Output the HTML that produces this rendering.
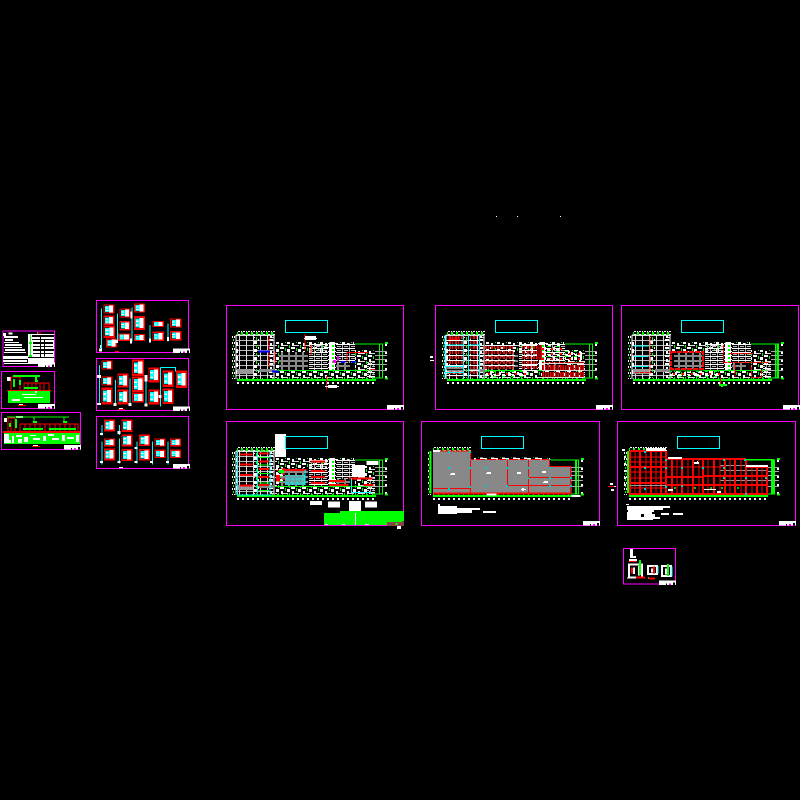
<!DOCTYPE html>
<html><head><meta charset="utf-8"><title>CAD sheet overview</title>
<style>html,body{margin:0;padding:0;background:#000}svg{display:block}</style></head>
<body>
<svg xmlns="http://www.w3.org/2000/svg" width="800" height="800" viewBox="0 0 800 800" shape-rendering="crispEdges">
<defs>
<pattern id="topd" width="15" height="12" patternUnits="userSpaceOnUse"><rect x="3" y="0" width="6" height="9" fill="#0f0"/><rect x="9" y="6" width="6" height="6" fill="#fff"/><rect x="3" y="9" width="3" height="3" fill="#fff"/></pattern>
<pattern id="dotl" width="9" height="18" patternUnits="userSpaceOnUse"><rect x="0" y="0" width="6" height="6" fill="#fff"/><rect x="6" y="9" width="3" height="6" fill="#0f0"/></pattern>
<pattern id="busy" width="33" height="24" patternUnits="userSpaceOnUse"><rect x="0" y="0" width="12" height="3" fill="#fff"/><rect x="15" y="0" width="3" height="9" fill="#0f0"/><rect x="21" y="3" width="9" height="9" fill="#fff"/><rect x="3" y="9" width="6" height="9" fill="#fff"/><rect x="9" y="15" width="15" height="3" fill="#ddd"/><rect x="27" y="15" width="3" height="9" fill="#0f0"/><rect x="0" y="21" width="12" height="3" fill="#fff"/></pattern>
<pattern id="rows" width="21" height="12" patternUnits="userSpaceOnUse"><rect x="0" y="0" width="21" height="3" fill="#fff"/><rect x="0" y="6" width="12" height="3" fill="#bbb"/><rect x="15" y="3" width="3" height="9" fill="#aaa"/></pattern>
<pattern id="grey" width="21" height="15" patternUnits="userSpaceOnUse"><rect width="21" height="6" fill="#888"/><rect x="0" width="6" height="15" fill="#888"/></pattern>
<pattern id="tw" width="21" height="15" patternUnits="userSpaceOnUse"><rect width="21" height="3" fill="#bbb"/><rect width="3" height="15" fill="#ddd"/></pattern>
<pattern id="rc" width="18" height="15" patternUnits="userSpaceOnUse"><rect width="18" height="3" fill="#fff"/><rect x="3" y="3" width="12" height="9" fill="#f00"/><rect x="9" y="3" width="3" height="9" fill="#000"/></pattern>
<pattern id="rc2" width="15" height="21" patternUnits="userSpaceOnUse"><rect y="0" width="15" height="3" fill="#ddd"/><rect y="6" x="0" width="12" height="15" fill="#f00"/><rect y="6" x="5" width="3" height="15" fill="#000"/></pattern>
<pattern id="gd" width="12" height="15" patternUnits="userSpaceOnUse"><rect width="12" height="3" fill="#999"/></pattern>
<pattern id="mix" width="27" height="15" patternUnits="userSpaceOnUse"><rect x="0" y="3" width="9" height="3" fill="#0f0"/><rect x="3" y="0" width="9" height="3" fill="#fff"/><rect x="18" y="6" width="6" height="9" fill="#fff"/><rect x="12" y="9" width="6" height="6" fill="#f00"/><rect x="0" y="12" width="9" height="3" fill="#fff"/></pattern>
<pattern id="wg" width="21" height="12" patternUnits="userSpaceOnUse"><rect width="21" height="12" fill="#fff"/><rect x="6" y="3" width="6" height="6" fill="#0f0"/><rect x="15" y="0" width="3" height="9" fill="#000"/></pattern>

<g id="s">
<rect x="36" y="93" width="117" height="12" fill="url(#topd)"/>
<rect x="159" y="126" width="228" height="6" fill="url(#busy)"/>
<path d="M36 249H453" stroke="#fff" stroke-width="6" stroke-dasharray="6 9"/>
<path d="M36 239H453" stroke="#0f0" stroke-width="9" stroke-dasharray="3 12"/>
<rect x="36" y="237" width="417" height="6" fill="#0f0"/>
<rect x="21" y="105" width="9" height="132" fill="url(#dotl)"/>
<path d="M483 132V235" stroke="#fff" stroke-width="6" stroke-dasharray="6 18"/>
<path d="M390 132H473V234H441M463 132V234" fill="none" stroke="#0f0" stroke-width="3"/>
<path d="M450 154H486M450 166H486M450 178H486M450 193H486M450 212H486" stroke="#aaa" stroke-width="3"/>
<rect x="480" y="126" width="9" height="6" fill="#0f0"/><rect x="480" y="232" width="9" height="6" fill="#0f0"/>
</g>

<g id="i">
<rect x="33" y="105" width="114" height="132" fill="url(#tw)"/>
<path d="M33 105V237M147 105V237M33 105H147" stroke="#fff" stroke-width="3" fill="none"/>
<path d="M36 126V226" stroke="#fff" stroke-width="6" stroke-dasharray="12 9"/>
<rect x="84" y="108" width="18" height="126" fill="url(#busy)"/>
<rect x="129" y="108" width="18" height="126" fill="url(#busy)"/>
<rect x="36" y="207" width="48" height="15" fill="#999"/>
<rect x="102" y="207" width="45" height="9" fill="#888"/>
<rect x="150" y="126" width="165" height="30" fill="url(#busy)"/>
<rect x="162" y="156" width="87" height="54" fill="url(#grey)"/>
<rect x="150" y="156" width="12" height="54" fill="url(#busy)"/>
<rect x="252" y="132" width="57" height="78" fill="url(#rows)"/>
<rect x="309" y="126" width="24" height="84" fill="url(#wg)"/>
<rect x="150" y="210" width="300" height="27" fill="url(#busy)"/>
<rect x="150" y="210" width="300" height="3" fill="#0f0"/>
<rect x="333" y="129" width="57" height="60" fill="url(#rows)"/>
<rect x="390" y="150" width="60" height="60" fill="url(#busy)"/>
<rect x="333" y="189" width="42" height="21" fill="url(#grey)"/>
<rect x="426" y="186" width="24" height="48" fill="url(#rows)"/>
</g>

<g id="u">
<rect x="2" y="2" width="29" height="24" fill="#000" stroke="#f00" stroke-width="4"/>
<rect x="5" y="5" width="12" height="18" fill="#0ff"/>
<rect x="17" y="4" width="12" height="20" fill="#fff"/>
<rect x="6" y="9" width="8" height="3" fill="#fff"/>
<rect x="6" y="17" width="8" height="3" fill="#fff"/>
</g>
<g id="tb"><rect width="51" height="13" fill="#fff"/><rect x="21" y="9" width="3" height="4" fill="#000"/><rect x="30" y="9" width="6" height="4" fill="#f0f"/><rect x="42" y="6" width="6" height="7" fill="#000"/></g>
</defs>

<rect width="800" height="800" fill="#000"/>
<g fill="#fff"><rect x="496" y="216" width="1" height="1"/><rect x="517" y="216" width="1" height="1"/><rect x="560" y="216" width="1" height="1"/></g>

<!-- left small sheets -->
<g transform="translate(0,295) scale(.33333333)">
<!-- a -->
<rect x="8.5" y="107.500" width="155" height="107" fill="none" stroke="#f0f" stroke-width="3"/>
<path fill="#fff" d="M26 112h12v6h-12zM111 112h12v3h-12zM9 114h9v9h-9zM12 123h42v6h-42zM15 132h24v6h-24zM12 141h45v3h-45zM15 147h51v6h-51zM12 156h54v3h-54zM15 162h60v6h-60zM12 171h66v3h-66zM9 183h75v9h-75zM9 195h72v6h-72zM12 204h72v3h-72z"/>
<rect x="84" y="117" width="78" height="90" fill="#fff"/>
<path fill="#000" d="M96 120h66v6h-66zM96 132h66v3h-66zM99 141h60v6h-60zM99 153h60v3h-60zM99 162h63v6h-63zM99 174h60v3h-60zM84 186h78v3h-78zM120 126h3v60h-3zM132 135h3v50h-3z"/>
<rect x="90" y="120" width="3" height="66" fill="#0f0"/><rect x="87" y="141" width="9" height="6" fill="#0f0"/><rect x="87" y="180" width="9" height="6" fill="#0f0"/>
<rect x="114" y="112" width="9" height="3" fill="#f00"/>
<use href="#tb" x="114" y="203"/>
<!-- b -->
<rect x="4.500" y="229.500" width="159" height="111" fill="none" stroke="#f0f" stroke-width="3"/>
<rect x="24" y="288" width="126" height="36" fill="#0f0"/>
<rect x="21" y="285" width="132" height="3" fill="#f00"/>
<path fill="#fff" d="M66 297h42v3h-42zM72 306h57v3h-57zM36 312h24v6h-24zM105 288h6v6h-6z"/>
<rect x="21" y="246" width="12" height="12" fill="#fff"/>
<path d="M33 285V246H60M60 285V246M72 285V264H147V285M84 285V264M96 285V264M108 285V264M120 285V264M132 285V264M39 243H120" fill="none" stroke="#f00" stroke-width="3"/>
<path d="M39 243H120M108 243V258M60 255V270" fill="none" stroke="#0f0" stroke-width="6"/>
<path d="M42 252V276M72 279H114" fill="none" stroke="#0f0" stroke-width="6"/>
<rect x="105" y="255" width="9" height="6" fill="#0f0"/>
<rect x="57" y="327" width="12" height="3" fill="#fff"/><rect x="54" y="330" width="24" height="3" fill="#f00"/>
<use href="#tb" x="114" y="327"/>
<!-- c -->
<rect x="4.500" y="352.500" width="237" height="111" fill="none" stroke="#f0f" stroke-width="3"/>
<rect x="12" y="414" width="228" height="33" fill="#0f0"/>
<rect x="9" y="408" width="231" height="6" fill="#f00"/>
<rect x="12" y="369" width="9" height="12" fill="#fff"/><rect x="48" y="363" width="21" height="6" fill="#fff"/>
<path fill="#fff" d="M12 417h15v27h-15zM36 423h6v21h-6zM48 420h18v6h-18zM72 426h12v15h-12zM90 420h18v3h-18zM99 429h21v6h-21zM129 423h9v15h-9zM144 417h18v6h-18zM156 429h21v6h-21zM186 420h9v18h-9zM201 426h21v6h-21zM228 420h9v21h-9zM24 435h9v9h-9zM54 432h12v12h-12z"/>
<path d="M24 408V369H45M45 408V369M33 408V375M60 408V387H234V408M75 408V387M90 408V387M105 408V387M120 408V387M135 408V387M150 408V387M165 408V387M180 408V387M195 408V387M210 408V387M225 408V387" fill="none" stroke="#f00" stroke-width="3"/>
<path d="M21 366H207M102 366V381M192 366V381" fill="none" stroke="#0f0" stroke-width="3"/>
<path d="M30 384V396M48 372V399M69 402H129M147 402H228" fill="none" stroke="#0f0" stroke-width="6"/>
<rect x="99" y="378" width="12" height="6" fill="#0f0"/><rect x="189" y="378" width="12" height="6" fill="#0f0"/>
<rect x="99" y="450" width="15" height="3" fill="#fff"/><rect x="96" y="453" width="24" height="3" fill="#f00"/>
<use href="#tb" x="192" y="450"/>

<!-- d -->
<rect x="289.500" y="16.500" width="276" height="156" fill="none" stroke="#f0f" stroke-width="3"/>
<use href="#u" transform="translate(310,28)"/><use href="#u" transform="translate(310,62)"/>
<use href="#u" transform="translate(310,92) scale(1.06,1.3)"/><use href="#u" transform="translate(318,130)"/>
<use href="#u" transform="translate(358,40)"/><use href="#u" transform="translate(358,78)"/><use href="#u" transform="translate(352,115) scale(1.2,.8)"/>
<use href="#u" transform="translate(402,25)"/><use href="#u" transform="translate(402,63) scale(1,1.5)"/><use href="#u" transform="translate(402,117) scale(1,.75)"/>
<use href="#u" transform="translate(457,78) scale(1.05,.65)"/><use href="#u" transform="translate(457,110) scale(1.05,1)"/>
<use href="#u" transform="translate(510,70) scale(1.05,1)"/><use href="#u" transform="translate(510,108) scale(1.05,1)"/>
<path d="M304 40V165M352 55V140M396 38V140M450 90V140M504 85V140" fill="none" stroke="#0ff" stroke-width="3"/>
<path fill="#fff" d="M297 160h9v9h-9zM300 150h3v9h-3zM345 135h9v9h-9zM390 130h6v15h-6zM447 130h6v12h-6zM501 126h6v12h-6zM392 50h6v20h-6z"/>
<rect x="345" y="168" width="12" height="3" fill="#f00"/>
<use href="#tb" x="519" y="161"/>
<!-- e -->
<rect x="289.500" y="190.500" width="276" height="156" fill="none" stroke="#f0f" stroke-width="3"/>
<use href="#u" transform="translate(304,196)"/><use href="#u" transform="translate(304,244)"/><use href="#u" transform="translate(304,278) scale(1,1.8)"/>
<use href="#u" transform="translate(352,235) scale(1,1.5)"/><use href="#u" transform="translate(352,283) scale(1,1.6)"/>
<use href="#u" transform="translate(396,193) scale(1.1,1.8)"/><use href="#u" transform="translate(396,244) scale(1.1,1.7)"/><use href="#u" transform="translate(396,292) scale(1.1,1.1)"/>
<use href="#u" transform="translate(445,217) scale(1,1.6)"/><use href="#u" transform="translate(445,283) scale(1,1.6)"/>
<use href="#u" transform="translate(487,226) scale(1,1.8)"/><use href="#u" transform="translate(487,280) scale(1,1.7)"/>
<use href="#u" transform="translate(528,226) scale(1,1.9)"/>
<path d="M298 210V328M346 255V330M390 250V330M438 240V335M481 218V335M481 218H526V230" fill="none" stroke="#0ff" stroke-width="3"/>
<path fill="#fff" d="M291 240h12v9h-12zM291 324h12v6h-12zM340 324h9v9h-9zM386 324h9v9h-9zM433 325h9v9h-9zM476 300h9v9h-9zM433 240h9v20h-9z"/>
<rect x="357" y="339" width="12" height="3" fill="#fff"/><rect x="354" y="342" width="21" height="3" fill="#f00"/>
<use href="#tb" x="519" y="335"/>
<!-- f -->
<rect x="289.500" y="364.500" width="276" height="156" fill="none" stroke="#f0f" stroke-width="3"/>
<use href="#u" transform="translate(312,373) scale(1,1.3)"/><use href="#u" transform="translate(312,430) scale(1,.85)"/><use href="#u" transform="translate(312,460) scale(1,1.3)"/>
<use href="#u" transform="translate(364,373) scale(1,1.35)"/><use href="#u" transform="translate(364,418) scale(1,1.3)"/><use href="#u" transform="translate(364,462) scale(1,1.3)"/>
<use href="#u" transform="translate(417,418) scale(1,1.25)"/><use href="#u" transform="translate(417,462) scale(1,1.25)"/>
<use href="#u" transform="translate(463,430) scale(1,.9)"/><use href="#u" transform="translate(463,464) scale(1,.9)"/>
<use href="#u" transform="translate(510,430) scale(1,.85)"/><use href="#u" transform="translate(510,464) scale(1,.9)"/>
<path d="M306 390V422M306 440V508M358 390V420M358 430V505M411 440V505M457 440V508M504 440V508" fill="none" stroke="#0ff" stroke-width="3"/>
<path fill="#fff" d="M300 414h9v6h-9zM352 408h9v9h-9zM300 498h9v6h-9zM352 498h9v6h-9zM403 456h9v6h-9zM403 498h9v6h-9zM450 498h9v6h-9zM498 498h9v6h-9z"/>
<rect x="357" y="516" width="12" height="3" fill="#fff"/>
<use href="#tb" x="519" y="507"/>
</g>

<!-- Sheet 1 -->
<g transform="translate(225,300) scale(.33333333)">
<rect x="4.500" y="16.500" width="531" height="312" fill="none" stroke="#f0f" stroke-width="3"/>
<rect x="181.500" y="61.500" width="126" height="36" fill="none" stroke="#0ff" stroke-width="3"/>
<use href="#i"/><use href="#s"/>
<path d="M240 102V152M304 228V268M132 110V200M258 135V165M150 155V190M366 157H430M366 157V185M436 208H450" fill="none" stroke="#f00" stroke-width="3"/>
<path d="M120 155H135M348 186H360M380 186H392M141 214H162M100 155H128" fill="none" stroke="#00f" stroke-width="6"/>
<rect x="324" y="180" width="9" height="9" fill="#f0f"/><rect x="336" y="168" width="6" height="15" fill="#f0f"/>
<rect x="240" y="108" width="33" height="12" fill="#fff"/><rect x="237" y="114" width="39" height="3" fill="#fff"/>
<rect x="309" y="255" width="27" height="9" fill="#fff"/><rect x="300" y="258" width="42" height="3" fill="#fff"/>
<use href="#tb" x="486" y="315"/>
</g>

<!-- Sheet 2 -->
<g transform="translate(430,300) scale(.33333333)">
<rect x="16.500" y="16.500" width="531" height="312" fill="none" stroke="#f0f" stroke-width="3"/>
<rect x="196.500" y="61.500" width="126" height="36" fill="none" stroke="#0ff" stroke-width="3"/>
<use href="#i" x="15"/><use href="#s" x="15"/>
<rect x="51" y="108" width="48" height="122" fill="url(#rc)"/>
<rect x="117" y="108" width="30" height="122" fill="url(#rc)"/>
<rect x="165" y="132" width="90" height="78" fill="url(#rc)"/>
<rect x="276" y="132" width="45" height="81" fill="url(#rc)"/>
<rect x="321" y="135" width="15" height="45" fill="#f00"/>
<path d="M324 135V180M330 135V180" stroke="#000" stroke-width="3"/>
<rect x="336" y="186" width="126" height="48" fill="url(#rc2)"/>
<rect x="336" y="135" width="60" height="45" fill="url(#mix)"/>
<rect x="399" y="150" width="60" height="30" fill="url(#mix)"/>
<rect x="165" y="213" width="129" height="21" fill="url(#mix)"/>
<path d="M45 105V235M100 105V235M115 105V235M148 105V235M45 135H100M115 135H148M45 200H100M45 218H100" fill="none" stroke="#0ff" stroke-width="3"/>
<rect x="51" y="203" width="48" height="12" fill="#fff"/>
<rect x="51" y="206" width="48" height="6" fill="#000"/>
<path d="M55 114H90M55 118H90" stroke="#f00" stroke-width="3"/>
<rect x="0" y="168" width="9" height="6" fill="#fff"/><rect x="0" y="180" width="12" height="3" fill="#fff"/>
<use href="#tb" x="498" y="315"/>
</g>

<!-- Sheet 3 -->
<g transform="translate(615,300) scale(.33333333)">
<rect x="19.500" y="16.500" width="531" height="312" fill="none" stroke="#f0f" stroke-width="3"/>
<rect x="199.500" y="61.500" width="126" height="36" fill="none" stroke="#0ff" stroke-width="3"/>
<use href="#i" x="18"/><use href="#s" x="18"/>
<rect x="165" y="156" width="100" height="55" fill="#000"/>
<rect x="177" y="159" width="84" height="48" fill="url(#grey)"/>
<rect x="168" y="156" width="96" height="51" fill="none" stroke="#f00" stroke-width="6" stroke-dasharray="15 3"/>
<path d="M55 138H100M55 170H100M55 200H100" stroke="#0ff" stroke-width="3"/>
<path d="M105 110V220M326 135V185M326 188H462M342 160H416M60 218H110M440 210V233H410V195M360 195V230" fill="none" stroke="#f00" stroke-width="3" stroke-dasharray="12 3"/>
<rect x="484" y="130" width="6" height="105" fill="#0f0"/>
<rect x="165" y="213" width="150" height="18" fill="url(#mix)"/>
<path d="M316 232V252" stroke="#f00" stroke-width="3"/>
<rect x="312" y="252" width="24" height="6" fill="#0f0"/><rect x="318" y="258" width="6" height="3" fill="#0f0"/>
<use href="#tb" x="504" y="315"/>
</g>

<!-- Sheet 4 -->
<g transform="translate(225,415) scale(.33333333)">
<rect x="4.500" y="19.500" width="531" height="312" fill="none" stroke="#f0f" stroke-width="3"/>
<use href="#i" y="3"/><use href="#s" y="3"/>
<rect x="150" y="57" width="33" height="69" fill="#fff"/>
<rect x="181.500" y="64.500" width="126" height="36" fill="none" stroke="#0ff" stroke-width="3"/>
<path d="M37 108V240M38 240H140M97 110V235M135 110V235" fill="none" stroke="#0ff" stroke-width="3"/>
<path d="M45 118H82M45 148H82M45 180H82M45 212H82M100 115H132M100 140H132M100 162H132M100 186H132M100 210H132" stroke="#f00" stroke-width="6"/>
<path d="M100 108H132M100 128H132M100 150H132M100 176H132M100 204H132M100 226H132" stroke="#0f0" stroke-width="3"/>
<rect x="180" y="180" width="60" height="30" fill="#3cc"/>
<path d="M180 186H240M180 198H240M195 180V210M210 180V210M225 180V210" stroke="#888" stroke-width="3"/>
<path d="M155 165H245M258 140H300M258 168H300M258 186H300M258 204H300M312 198H360M312 210H370M372 190H442M415 210H445M390 165V195" fill="none" stroke="#f00" stroke-width="6"/>
<rect x="153" y="155" width="27" height="50" fill="url(#mix)"/>
<rect x="153" y="180" width="12" height="20" fill="#f00"/>
<rect x="162" y="165" width="15" height="9" fill="#0f0"/>
<path d="M240 165V210M380 190V232H440" fill="none" stroke="#0ff" stroke-width="3"/>
<rect x="425" y="138" width="35" height="12" fill="#fff"/>
<rect x="381" y="150" width="39" height="36" fill="#fff"/>
<path fill="#fff" d="M255 258h36v12h-36zM309 260h36v18h-36zM372 258h36v32h-36zM420 260h36v18h-36z"/>
<rect x="345" y="288" width="192" height="42" fill="#0f0"/>
<rect x="297" y="294" width="48" height="36" fill="#0f0"/>
<rect x="390" y="294" width="3" height="36" fill="#fff"/>
<path fill="#fff" d="M300 327h9v3h-9zM351 327h9v3h-9zM420 327h12v3h-12z"/>
<rect x="486" y="321" width="51" height="12" fill="#844"/><rect x="531" y="318" width="6" height="9" fill="#844"/>
<rect x="510" y="324" width="9" height="6" fill="#3c3"/>
<rect x="516" y="333" width="12" height="9" fill="#fff"/>
</g>

<!-- Sheet 5 -->
<g transform="translate(418,415) scale(.33333333)">
<rect x="10.500" y="19.500" width="534" height="312" fill="none" stroke="#f0f" stroke-width="3"/>
<rect x="190.500" y="64.500" width="126" height="36" fill="none" stroke="#0ff" stroke-width="3"/>
<use href="#s" x="9" y="3"/>
<path fill="#888" d="M45 108H157V133H395V155H460V237H45z"/>
<path d="M46 108H157V237M46 220H157M157 133H395M268 133V210M332 133V237M395 133V155H458V237M332 187H458M268 211H458M47 237H458" fill="none" stroke="#f00" stroke-width="3"/>
<path d="M45 234H460" stroke="#f00" stroke-width="3"/>
<path d="M38 108V235" stroke="#0f0" stroke-width="6"/>
<path d="M475 133V235" stroke="#0f0" stroke-width="3"/>
<rect x="45" y="105" width="21" height="6" fill="#fff"/>
<rect x="165" y="127" width="210" height="6" fill="url(#busy)"/>
<g fill="#0cc"><rect x="90" y="156" width="6" height="6"/><rect x="153" y="156" width="6" height="6"/><rect x="201" y="156" width="6" height="6"/><rect x="264" y="156" width="6" height="6"/><rect x="327" y="156" width="6" height="6"/><rect x="393" y="156" width="6" height="6"/><rect x="201" y="210" width="6" height="6"/><rect x="264" y="210" width="6" height="6"/><rect x="327" y="186" width="6" height="6"/><rect x="393" y="186" width="6" height="6"/><rect x="456" y="186" width="6" height="6"/><rect x="393" y="210" width="6" height="6"/><rect x="456" y="210" width="6" height="6"/><rect x="90" y="219" width="6" height="6"/><rect x="153" y="213" width="6" height="6"/><rect x="153" y="132" width="6" height="3"/><rect x="201" y="132" width="6" height="3"/><rect x="264" y="132" width="6" height="3"/><rect x="327" y="132" width="6" height="3"/><rect x="393" y="132" width="6" height="3"/><rect x="90" y="108" width="6" height="6"/><rect x="153" y="108" width="6" height="6"/></g>
<path fill="#fff" d="M99 174h12v6h-12zM96 177h6v3h-6zM207 171h12v6h-12zM204 174h6v3h-6zM297 171h12v6h-12zM372 168h12v6h-12zM378 198h12v6h-12zM375 201h6v3h-6zM312 219h6v9h-6zM309 222h15v3h-15z"/>
<rect x="205" y="236" width="30" height="6" fill="#fff"/><rect x="460" y="240" width="27" height="6" fill="#fff"/>
<path fill="#fff" d="M60 267h6v6h-6zM66 273h51v24h-57v-24zM117 279h69v6h-69zM117 285h45v9h-45zM195 288h39v6h-39z"/>
<use href="#tb" x="495" y="318"/>
</g>

<!-- Sheet 6 -->
<g transform="translate(608,415) scale(.33333333)">
<rect x="28.500" y="19.500" width="534" height="312" fill="none" stroke="#f0f" stroke-width="3"/>
<rect x="208.500" y="64.500" width="126" height="36" fill="none" stroke="#0ff" stroke-width="3"/>
<use href="#s" x="27" y="3"/>
<rect x="336" y="150" width="144" height="60" fill="url(#gd)"/>
<path fill="none" stroke="#f00" stroke-width="6" d="M66 108V238M96 108V238M129 108V238M159 108V238M174 108V238
M192 133V238M222 133V238M255 133V238M285 133V238M318 133V238M351 133V238M381 133V238M414 133V238M447 156V238M477 156V238
M66 108H174M66 156H174M66 204H174M66 237H480
M174 132H414M174 186H285M285 183H480M414 156H480M174 210H480"/>
<path fill="none" stroke="#f00" stroke-width="3" d="M81 108V238M114 108V238M144 108V238M207 133V238M240 133V238M273 133V238M300 133V238M336 133V238M366 133V238M399 133V238M432 156V238M462 156V238
M66 126H174M66 141H174M66 171H174M66 189H174M66 219H174M174 156H348"/>
<rect x="66" y="210" width="108" height="9" fill="url(#gd)"/>
<rect x="57" y="108" width="6" height="126" fill="#0f0"/>
<rect x="492" y="133" width="6" height="102" fill="#0f0"/>
<path d="M414 133H498" stroke="#0f0" stroke-width="3"/>
<rect x="42" y="102" width="9" height="6" fill="#fff"/>
<path d="M51 123V225" stroke="#fff" stroke-width="6" stroke-dasharray="6 15"/>
<rect x="114" y="99" width="60" height="9" fill="#fff"/><rect x="180" y="126" width="42" height="6" fill="#fff"/>
<path fill="#fff" d="M258 141h15v6h-15zM267 138h3v3h-3zM180 222h15v6h-15zM327 228h12v6h-12zM288 222h36v3h-36zM414 150h66v6h-66z"/>
<g fill="#0cc"><rect x="108" y="156" width="6" height="6"/><rect x="171" y="156" width="6" height="6"/><rect x="219" y="156" width="6" height="6"/><rect x="282" y="156" width="6" height="6"/><rect x="345" y="156" width="6" height="6"/><rect x="411" y="186" width="6" height="6"/><rect x="471" y="186" width="6" height="6"/><rect x="108" y="219" width="6" height="6"/><rect x="171" y="213" width="6" height="6"/><rect x="219" y="210" width="6" height="6"/><rect x="345" y="186" width="6" height="6"/><rect x="411" y="234" width="6" height="6"/><rect x="171" y="132" width="6" height="6"/><rect x="345" y="132" width="6" height="6"/><rect x="408" y="132" width="6" height="6"/><rect x="108" y="108" width="6" height="6"/></g>
<g fill="#0c0"><rect x="258" y="216" width="6" height="6"/><rect x="306" y="216" width="6" height="6"/><rect x="339" y="216" width="6" height="6"/><rect x="387" y="216" width="6" height="6"/><rect x="198" y="216" width="6" height="6"/></g>
<path fill="#fff" d="M54 267h9v3h-9zM57 273h129v6h-129zM57 279h108v6h-108zM60 285h78v6h-78zM57 291h75v6h-75zM57 297h42v9h-42zM108 297h33v9h-33zM57 306h99v6h-99zM57 312h78v3h-78zM159 294h24v6h-24zM195 294h30v6h-30z"/>
<use href="#tb" x="513" y="318"/>
<path fill="#fff" d="M6 204h9v6h-9zM9 222h9v6h-9zM18 213h6v3h-6z"/>
<rect x="0" y="213" width="18" height="3" fill="#f00"/>
</g>

<!-- Small detail sheet -->
<g transform="translate(610,540) scale(.33333333)">
<rect x="40.500" y="25.500" width="156" height="107" fill="none" stroke="#f0f" stroke-width="3"/>
<path fill="#fff" d="M60 27h9v21h-9zM60 48h18v6h-18zM57 57h24v6h-24zM54 70h45v45h-45zM111 75h33v30h-33zM153 75h33v36h-33zM51 112h24v3h-24zM114 112h21v3h-21z"/>
<path fill="#000" d="M60 76h33v33h-33zM117 81h21v18h-21zM159 81h21v24h-21z"/>
<path fill="#fff" d="M69 82h6v20h-6zM84 78h6v28h-6zM123 85h6v12h-6zM165 85h6v18h-6z"/>
<path d="M66 82V100M78 112H105M117 115H135M132 80V100" fill="none" stroke="#f00" stroke-width="6"/>
<rect x="57" y="63" width="24" height="3" fill="#f00"/>
<path d="M90 60V105M174 72V108" stroke="#0f0" stroke-width="6"/>
<path d="M144 78V100M186 80V110" stroke="#0ff" stroke-width="3"/>
<use href="#tb" x="147" y="122"/>
</g>
</svg>
</body></html>
